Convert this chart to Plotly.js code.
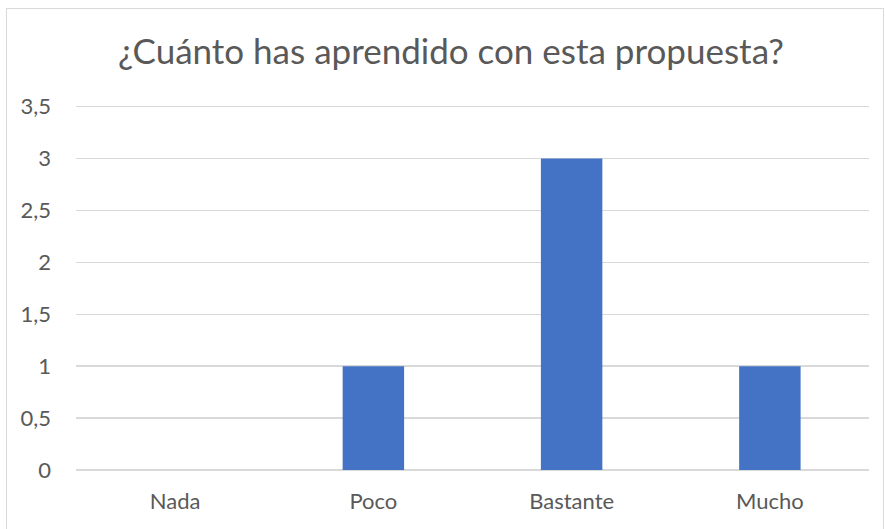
<!DOCTYPE html>
<html>
<head>
<meta charset="utf-8">
<script src="https://cdn.plot.ly/plotly-3.0.1.min.js"></script>
<style>
  html, body { margin: 0; padding: 0; background: #fff; }
  #wrap { position: relative; width: 886px; height: 529px; }
  #chart { width: 886px; height: 529px; }
  #frame { position: absolute; left: 6px; top: 8px; width: 878px; height: 530px; border: 1px solid #D9D9D9; pointer-events: none; box-sizing: border-box; }
</style>
</head>
<body>
<div id="wrap">
  <div id="chart"></div>
  <div id="frame"></div>
</div>
<script>
const categories = ["Nada", "Poco", "Bastante", "Mucho"];
const values = [0, 1, 3, 1];
const tickVals = [0, 0.5, 1, 1.5, 2, 2.5, 3, 3.5];
const tickText = ["0", "0,5", "1", "1,5", "2", "2,5", "3", "3,5"];
const chartTitle = "¿Cuánto has aprendido con esta propuesta?";

const trace = {
  type: "bar",
  x: categories,
  y: values,
  marker: { color: "#4472C4", line: { width: 0 } },
  width: 0.31,
  hoverinfo: "x+y"
};

const layout = {
  width: 886,
  height: 529,
  margin: { l: 76, r: 17, t: 103, b: 59 },
  paper_bgcolor: "#ffffff",
  plot_bgcolor: "#ffffff",
  separators: ",.",
  font: { family: "Lato, 'Open Sans', sans-serif", color: "#595959", size: 22 },
  title: {
    text: chartTitle,
    font: { family: "Lato, 'Open Sans', sans-serif", size: 35, color: "#595959" },
    x: 451 / 886, xanchor: "center", xref: "container",
    y: 1 - 52 / 529, yanchor: "middle", yref: "container"
  },
  showlegend: false,
  bargap: 0.69,
  xaxis: {
    type: "category",
    showgrid: false,
    showline: false,
    zeroline: false,
    ticks: "",
    tickfont: { size: 22, color: "#595959" },
    ticklabelstandoff: 16
  },
  yaxis: {
    range: [0, 3.535],
    tickvals: tickVals,
    ticktext: tickText,
    showgrid: true,
    gridcolor: "#D9D9D9",
    gridwidth: 1.5,
    zeroline: true,
    zerolinecolor: "#D9D9D9",
    zerolinewidth: 1.5,
    showline: false,
    ticks: "",
    tickfont: { size: 22, color: "#595959" },
    ticklabelstandoff: 24
  }
};

Plotly.newPlot("chart", [trace], layout, { displayModeBar: false, staticPlot: true });
</script>
</body>
</html>
